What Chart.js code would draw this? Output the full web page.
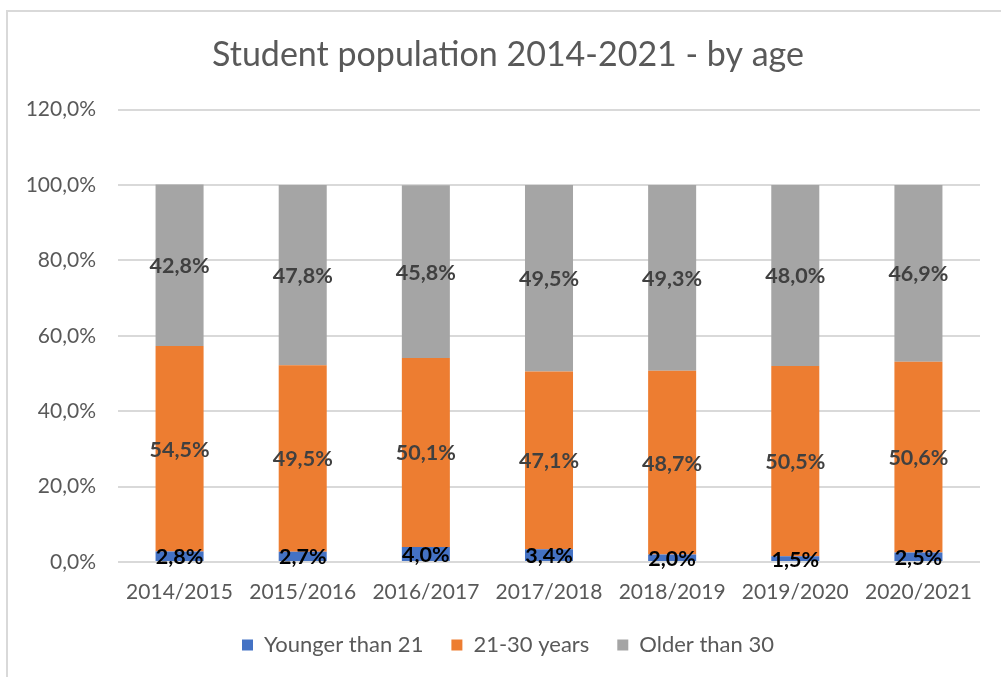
<!DOCTYPE html>
<html>
<head>
<meta charset="utf-8">
<script src="https://cdn.jsdelivr.net/npm/chart.js@4"></script>
<style>
  html, body { margin: 0; padding: 0; background: #ffffff; overflow: hidden; }
  #frame { position: absolute; left: 6px; top: 10px; width: 1100px; height: 800px;
           border-left: 2px solid #d9d9d9; border-top: 2px solid #d9d9d9; box-sizing: border-box; }
  #wrap { position: absolute; left: 0; top: 0; width: 1001px; height: 677px; }
</style>
</head>
<body>
<div id="frame"></div>
<div id="wrap"><canvas id="c" width="1001" height="677"></canvas></div>
<script>
const categories = ['2014/2015', '2015/2016', '2016/2017', '2017/2018', '2018/2019', '2019/2020', '2020/2021'];
const seriesNames = ['Younger than 21', '21-30 years', 'Older than 30'];
const youngerThan21 = [2.8, 2.7, 4.0, 3.4, 2.0, 1.5, 2.5];
const age21to30 = [54.5, 49.5, 50.1, 47.1, 48.7, 50.5, 50.6];
const olderThan30 = [42.8, 47.8, 45.8, 49.5, 49.3, 48.0, 46.9];
const yTickLabels = ['0,0%', '20,0%', '40,0%', '60,0%', '80,0%', '100,0%', '120,0%'];

const FONT = 'Lato, "Open Sans", sans-serif';
const fmt = v => v.toFixed(1).replace('.', ',') + '%';

const labelPlugin = {
  id: 'segLabels',
  afterDatasetsDraw(chart) {
    const ctx = chart.ctx;
    ctx.save();
    ctx.textAlign = 'center';
    ctx.textBaseline = 'middle';
    ctx.font = 'bold 21.5px ' + FONT;
    chart.data.datasets.forEach((ds, di) => {
      const meta = chart.getDatasetMeta(di);
      meta.data.forEach((el, i) => {
        const p = el.getCenterPoint();
        ctx.fillStyle = ds.labelColor;
        ctx.fillText(fmt(ds.data[i]), p.x, p.y + 1);
      });
    });
    ctx.restore();
  }
};

// Fix legend block height so item spacing can be wide without pushing the plot up
const legendHeightPlugin = {
  id: 'legendHeight',
  afterInit(chart) {
    const lg = chart.legend;
    if (!lg || lg._patched) return;
    const orig = lg.fit.bind(lg);
    lg.fit = function () { orig(); this.height = 71; };
    lg._patched = true;
  }
};

new Chart(document.getElementById('c'), {
  type: 'bar',
  data: {
    labels: categories,
    datasets: [
      { label: seriesNames[0], data: youngerThan21, backgroundColor: '#4472C4', labelColor: '#000000' },
      { label: seriesNames[1], data: age21to30, backgroundColor: '#ED7D31', labelColor: '#404040' },
      { label: seriesNames[2], data: olderThan30, backgroundColor: '#A5A5A5', labelColor: '#404040' }
    ]
  },
  options: {
    responsive: false,
    animation: false,
    layout: { padding: { left: 36, right: 21, top: 0, bottom: 0 } },
    datasets: { bar: { categoryPercentage: 1.0, barPercentage: 0.39 } },
    plugins: {
      title: {
        display: true,
        text: 'Student population 2014-2021 - by age',
        color: '#595959',
        font: { family: FONT, size: 34, weight: 'normal' },
        padding: { top: 34.6, bottom: 34.1 }
      },
      legend: {
        position: 'bottom',
        labels: {
          color: '#595959',
          font: { family: FONT, size: 22 },
          boxWidth: 11, boxHeight: 11,
          padding: 28
        }
      },
      tooltip: { enabled: false }
    },
    scales: {
      x: {
        stacked: true,
        grid: { display: false, drawTicks: false },
        border: { display: false },
        ticks: { color: '#595959', font: { family: FONT, size: 21 }, padding: 17.4 },
        afterFit(scale) { scale.height = 44; }
      },
      y: {
        stacked: true,
        min: 0, max: 120,
        grid: { color: '#d9d9d9', lineWidth: 2, drawTicks: false },
        border: { display: false },
        ticks: {
          stepSize: 20,
          color: '#595959',
          font: { family: FONT, size: 21 },
          padding: 22,
          callback: (v, i) => yTickLabels[i]
        },
        afterFit(scale) {
          scale.width = 82;
          scale._computeLabelArea = function () { return undefined; };
        }
      }
    }
  },
  plugins: [labelPlugin, legendHeightPlugin]
});
</script>
</body>
</html>
